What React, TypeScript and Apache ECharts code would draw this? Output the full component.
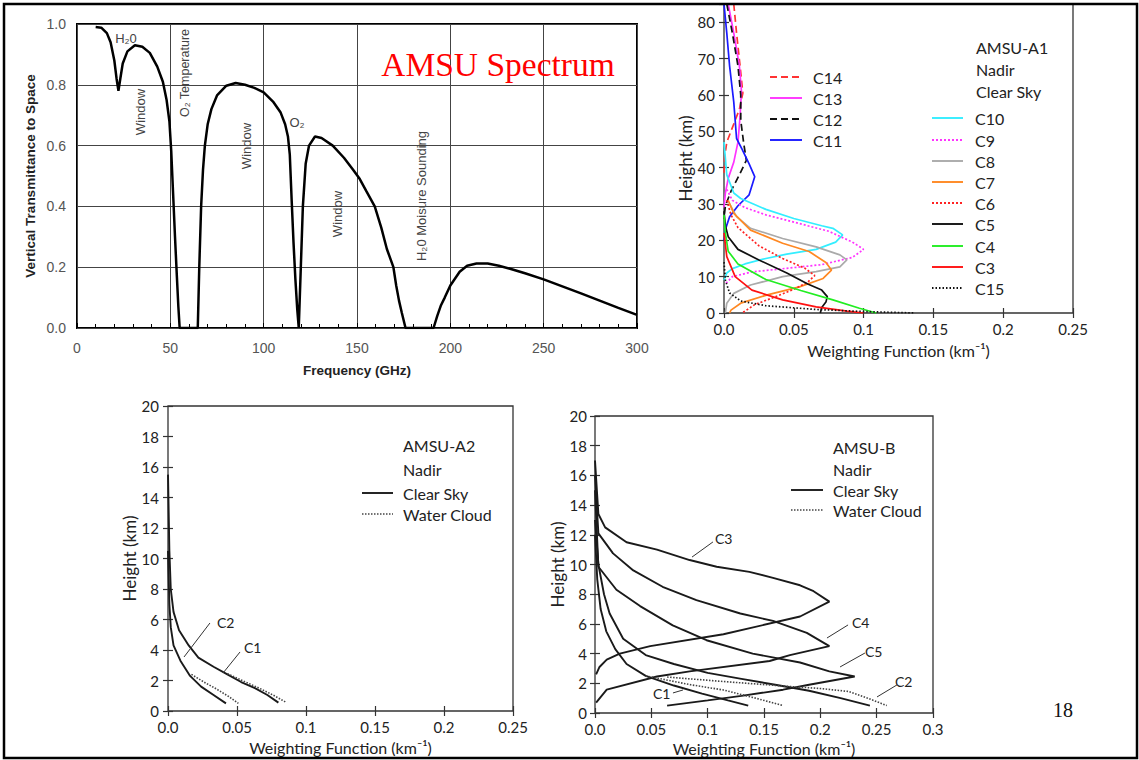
import React, { useEffect, useRef } from "react";
import * as echarts from "echarts";

// ---------- Panel 1: AMSU spectrum (frequency GHz, transmittance) ----------
const spectrum: number[][] = [
  [10, 0.99], [13, 0.988], [16, 0.97], [18, 0.94], [20, 0.88], [21.2, 0.82], [22.2, 0.78], [23.2, 0.82],
  [24.5, 0.87], [27, 0.91], [31, 0.93], [35, 0.925], [39, 0.905], [43, 0.86], [46, 0.81], [48, 0.75],
  [49.5, 0.68], [50.5, 0.58], [51.5, 0.44], [52.5, 0.3], [53.5, 0.17], [54.3, 0.07], [55, 0], [64.7, 0],
  [65.5, 0.2], [66.5, 0.4], [67.5, 0.52], [68.5, 0.6], [70, 0.67], [72, 0.72], [75, 0.765], [80, 0.797],
  [85, 0.806], [90, 0.8], [95, 0.79], [100, 0.775], [105, 0.745], [109, 0.71], [111.5, 0.67], [113, 0.63],
  [114, 0.57], [115, 0.42], [116, 0.28], [117, 0.16], [118, 0.06], [118.8, 0], [119.9, 0.2], [121, 0.4],
  [122.5, 0.54], [124.3, 0.6], [127.5, 0.63], [131, 0.625], [137, 0.6], [143, 0.56], [148, 0.52], [151.5, 0.49],
  [155, 0.45], [159.5, 0.4], [163, 0.33], [166, 0.26], [169.5, 0.2], [171, 0.14], [172.5, 0.09], [174, 0.05],
  [176, 0], [191, 0], [193, 0.04], [195, 0.075], [197, 0.1], [200, 0.14], [205, 0.185], [209, 0.205],
  [214, 0.212], [220, 0.212], [226, 0.205], [232, 0.195], [240, 0.18], [250, 0.16], [260, 0.137],
  [270, 0.114], [280, 0.09], [290, 0.066], [300, 0.043],
];
const specX = { min: 0, max: 300, step: 50 };
const specY = { min: 0, max: 1, step: 0.2 };

// ---------- Panel 2: AMSU-A1 weighting functions [weight, height km] ----------
const c14 = [[0.007, 85], [0.009, 77], [0.0115, 68], [0.0135, 60.5], [0.011, 56], [0.006, 51], [0.002, 47], [0.0005, 43], [0, 38]];
const c13 = [[0.003, 85], [0.007, 77], [0.011, 68], [0.0125, 61], [0.0115, 54], [0.01, 47], [0.007, 41.5], [0.003, 37], [0.001, 33], [0, 29]];
const c12 = [[0.002, 85], [0.006, 77], [0.01, 68], [0.012, 60], [0.012, 53], [0.014, 47], [0.016, 42], [0.011, 38], [0.005, 33.5], [0.001, 29.5], [0, 26]];
const c11 = [[0, 85], [0.002, 77], [0.004, 68], [0.007, 58], [0.009, 48], [0.013, 45], [0.018, 41], [0.022, 37.5], [0.018, 32.5], [0.01, 29.5], [0.004, 26.5], [0.001, 23], [0, 20]];
const c10 = [[0, 47], [0.002, 38], [0.007, 33], [0.012, 31.5], [0.03, 28.5], [0.05, 26], [0.07, 24], [0.078, 23.3], [0.085, 21.5], [0.08, 19.5], [0.066, 17.5], [0.045, 16.2], [0.03, 15], [0.015, 13.5], [0.006, 12.2], [0.002, 11], [0, 9]];
const c9 = [[0.002, 34], [0.006, 31], [0.015, 29], [0.03, 27], [0.05, 25], [0.075, 22.5], [0.092, 19.5], [0.1, 17.5], [0.092, 15.3], [0.07, 13.3], [0.045, 12.3], [0.02, 11.3], [0.006, 10], [0.001, 8]];
const c8 = [[0.004, 30], [0.009, 26.5], [0.019, 23.3], [0.042, 20.5], [0.066, 18.2], [0.083, 16], [0.088, 14.6], [0.083, 12.7], [0.066, 11.4], [0.042, 10], [0.019, 7.7], [0.007, 5.4], [0.002, 2.7], [0.001, 0]];
const c7 = [[0.003, 31], [0.007, 27.4], [0.019, 22.8], [0.042, 19.2], [0.061, 16.9], [0.073, 13.9], [0.077, 11.8], [0.071, 9.5], [0.054, 7.2], [0.031, 5], [0.012, 2.7], [0.005, 0.8], [0.004, 0]];
const c6 = [[0.002, 31], [0.005, 27], [0.01, 23.5], [0.025, 18.5], [0.042, 15], [0.058, 12.3], [0.065, 10.3], [0.06, 8.5], [0.05, 6.5], [0.035, 4.2], [0.022, 2.3], [0.013, 0]];
const c5 = [[0, 28], [0.001, 24], [0.003, 21], [0.01, 17.5], [0.025, 14.6], [0.045, 11], [0.06, 8], [0.07, 6.3], [0.074, 4.5], [0.073, 3], [0.07, 1.5], [0.069, 0]];
const c4 = [[0, 27], [0.001, 22], [0.003, 17], [0.01, 13.5], [0.03, 9.2], [0.055, 6.2], [0.078, 3.6], [0.097, 1.3], [0.109, 0]];
const c3 = [[0, 22], [0.002, 15.5], [0.008, 10], [0.02, 6.3], [0.042, 3.6], [0.066, 1.7], [0.088, 0.5], [0.1, 0]];
const c15 = [[0, 14], [0.001, 9], [0.004, 5.5], [0.012, 3.3], [0.03, 2], [0.065, 1], [0.1, 0.4], [0.137, 0]];
const a1X = { min: 0, max: 0.25, step: 0.05 };
const a1Y = { min: 0, max: 85, step: 10 };

// ---------- Panel 3: AMSU-A2 ----------
const a2C1Clear = [[0, 15.5], [0.001, 10.5], [0.002, 8], [0.004, 6.5], [0.008, 5.3], [0.015, 4.3], [0.022, 3.5], [0.033, 2.9], [0.043, 2.4], [0.053, 1.9], [0.063, 1.5], [0.072, 1.05], [0.08, 0.55]];
const a2C2Clear = [[0, 10.5], [0.001, 7], [0.002, 5.5], [0.004, 4.3], [0.009, 3.3], [0.016, 2.3], [0.024, 1.6], [0.033, 1.05], [0.042, 0.5]];
const a2C1Cloud = [[0.043, 2.45], [0.055, 1.95], [0.066, 1.5], [0.076, 1.05], [0.085, 0.6]];
const a2C2Cloud = [[0.017, 2.4], [0.026, 1.9], [0.035, 1.45], [0.044, 0.95], [0.051, 0.5]];
const a2LeadC2 = [[0.0304, 5.77], [0.0116, 3.54]];
const a2LeadC1 = [[0.0522, 3.87], [0.0399, 2.49]];
const a2X = { min: 0, max: 0.25, step: 0.05 };
const a2Y = { min: 0, max: 20, step: 2 };

// ---------- Panel 4: AMSU-B ----------
const bC1 = [[0, 12], [0.002, 9], [0.005, 7], [0.01, 5.5], [0.018, 4.3], [0.028, 3.3], [0.045, 2.5], [0.07, 1.85], [0.095, 1.3], [0.118, 0.85], [0.136, 0.5]];
const bC2 = [[0, 13], [0.003, 10], [0.008, 8], [0.013, 6.7], [0.025, 5], [0.045, 3.9], [0.07, 3.3], [0.1, 2.7], [0.13, 2.3], [0.16, 1.9], [0.19, 1.5], [0.218, 1], [0.244, 0.5]];
const bC3 = [[0, 17], [0.003, 13.4], [0.009, 12.5], [0.028, 11.5], [0.055, 11], [0.084, 10.3], [0.108, 9.85], [0.137, 9.5], [0.158, 9.1], [0.182, 8.6], [0.194, 8.2], [0.208, 7.5], [0.182, 6.5], [0.114, 5.3], [0.049, 4.5], [0.022, 4], [0.0104, 3.6], [0.004, 3.1], [0.001, 2.6]];
const bC4 = [[0, 16], [0.003, 12.1], [0.016, 10.75], [0.034, 9.6], [0.06, 8.5], [0.09, 7.6], [0.129, 6.7], [0.158, 6.2], [0.188, 5.4], [0.208, 4.5], [0.173, 3.9], [0.155, 3.5], [0.084, 2.8], [0.055, 2.46], [0.0104, 1.57], [0.001, 0.7]];
const bC5 = [[0, 15], [0.003, 9.85], [0.019, 8.3], [0.04, 7.2], [0.069, 5.9], [0.099, 4.9], [0.14, 4], [0.182, 3.4], [0.208, 2.8], [0.2305, 2.46], [0.19, 1.9], [0.167, 1.57], [0.13, 1.15], [0.1, 0.85], [0.064, 0.5]];
const bC1Cloud = [[0.045, 2.5], [0.085, 1.9], [0.114, 1.55], [0.14, 1.05], [0.167, 0.5]];
const bC2Cloud = [[0.064, 2.42], [0.114, 2.12], [0.17, 1.8], [0.2, 1.65], [0.225, 1.45], [0.242, 1.0], [0.259, 0.5]];
const bLeadC3 = [[0.1047, 11.52], [0.0861, 10.5]];
const bLeadC4 = [[0.2246, 5.93], [0.2059, 5.05]];
const bLeadC5 = [[0.2396, 4.04], [0.2175, 3.1]];
const bLeadC2 = [[0.268, 1.89], [0.2503, 1.08]];
const bLeadC1 = [[0.0692, 1.35], [0.0781, 1.55]];
const bX = { min: 0, max: 0.3, step: 0.05 };
const bY = { min: 0, max: 20, step: 2 };

const SANS = "Lato, 'DejaVu Sans', sans-serif";
const ARIAL = "'Liberation Sans', Arial, sans-serif";
const SERIF = "'Liberation Serif', 'Times New Roman', serif";

const fmtW = (v: number) => (v === 0 ? "0.0" : String(Math.round(v * 1000) / 1000));

const txt = (text: string, x: number, y: number, size: number, o: any = {}) => ({
  type: "text",
  x,
  y,
  z: 60,
  silent: true,
  rotation: o.rot || 0,
  style: {
    text,
    fill: o.color || "#222",
    fontSize: size,
    fontFamily: o.font || SANS,
    fontWeight: o.weight || "normal",
    align: o.align || "left",
    verticalAlign: "middle",
  },
});
const seg = (x1: number, y1: number, x2: number, y2: number, color: string, width: number, dash?: number[]) => ({
  type: "line",
  z: 60,
  silent: true,
  shape: { x1, y1, x2, y2 },
  style: { stroke: color, lineWidth: width, lineDash: dash || null },
});

export default function App() {
  const ref = useRef<HTMLDivElement>(null);
  useEffect(() => {
    document.body.style.margin = "0";
    const chart = echarts.init(ref.current!, null, { renderer: "svg" });

    const line = (name: string, data: number[][], idx: number, color: string, width: number, dash?: any, z = 3) => ({
      type: "line",
      name,
      data,
      xAxisIndex: idx,
      yAxisIndex: idx,
      symbol: "none",
      showSymbol: false,
      silent: true,
      z,
      lineStyle: { color, width, type: dash || "solid" },
    });

    const a1 = [
      { name: "C14", data: c14, color: "#ff3333", dash: [7, 4] },
      { name: "C13", data: c13, color: "#ff33ff", dash: null },
      { name: "C12", data: c12, color: "#111111", dash: [7, 4] },
      { name: "C11", data: c11, color: "#1a1aff", dash: null },
      { name: "C10", data: c10, color: "#33eeff", dash: null },
      { name: "C9", data: c9, color: "#ff33ff", dash: [2, 2] },
      { name: "C8", data: c8, color: "#aaaaaa", dash: null },
      { name: "C7", data: c7, color: "#ff8822", dash: null },
      { name: "C6", data: c6, color: "#ff2222", dash: [2, 2] },
      { name: "C5", data: c5, color: "#111111", dash: null },
      { name: "C4", data: c4, color: "#22ee22", dash: null },
      { name: "C3", data: c3, color: "#ff1111", dash: null },
      { name: "C15", data: c15, color: "#111111", dash: [1.5, 2] },
    ];

    const ink = "#1a1a1a";
    const dot = [1.5, 1.5];

    const series: any[] = [
      line("spectrum", spectrum, 0, "#000", 2.5),
      ...a1.map((s) => line(s.name, s.data, 1, s.color, 1.7, s.dash)),
      line("A2 C1 clear", a2C1Clear, 2, ink, 1.9),
      line("A2 C2 clear", a2C2Clear, 2, ink, 1.9),
      line("A2 C1 cloud", a2C1Cloud, 2, "#444", 1.6, dot),
      line("A2 C2 cloud", a2C2Cloud, 2, "#444", 1.6, dot),
      line("A2 lead C2", a2LeadC2, 2, "#333", 1),
      line("A2 lead C1", a2LeadC1, 2, "#333", 1),
      line("B C1", bC1, 3, ink, 1.9),
      line("B C2", bC2, 3, ink, 1.9),
      line("B C3", bC3, 3, ink, 1.9),
      line("B C4", bC4, 3, ink, 1.9),
      line("B C5", bC5, 3, ink, 1.9),
      line("B C1 cloud", bC1Cloud, 3, "#444", 1.6, dot),
      line("B C2 cloud", bC2Cloud, 3, "#444", 1.6, dot),
      line("B lead C3", bLeadC3, 3, "#333", 1),
      line("B lead C4", bLeadC4, 3, "#333", 1),
      line("B lead C5", bLeadC5, 3, "#333", 1),
      line("B lead C2", bLeadC2, 3, "#333", 1),
      line("B lead C1", bLeadC1, 3, "#333", 1),
    ];

    const boxGrid = (left: number, top: number, width: number, height: number) => ({
      left, top, width, height, show: true, borderColor: "#333", borderWidth: 1.3, backgroundColor: "transparent",
    });

    const wXAxis = (grid: number, r: any, name: string, gap: number, margin: number) => ({
      type: "value", gridIndex: grid, position: "bottom", min: r.min, max: r.max, interval: r.step,
      axisLine: { show: false }, splitLine: { show: false },
      axisTick: { show: true, inside: true, length: 5, lineStyle: { color: "#333", width: 1.2 } },
      axisLabel: { color: "#222", fontFamily: SANS, fontSize: 15, margin, formatter: fmtW },
      name, nameLocation: "middle", nameGap: gap,
      nameTextStyle: { color: "#222", fontFamily: SANS, fontSize: 16 },
    });
    const hYAxis = (grid: number, r: any, gap: number, margin: number) => ({
      type: "value", gridIndex: grid, position: "left", min: r.min, max: r.max, interval: r.step,
      axisLine: { show: false }, splitLine: { show: false },
      axisTick: { show: true, inside: true, length: 5, lineStyle: { color: "#333", width: 1.2 } },
      axisLabel: { color: "#222", fontFamily: SANS, fontSize: 15, margin, showMaxLabel: r.max % r.step === 0 },
      name: "Height (km)", nameLocation: "middle", nameGap: gap,
      nameTextStyle: { color: "#222", fontFamily: SANS, fontSize: 17 },
    });
    const mirrorX = (grid: number, r: any) => ({
      type: "value", gridIndex: grid, position: "top", min: r.min, max: r.max, interval: r.step,
      axisLine: { show: false }, splitLine: { show: false }, axisLabel: { show: false },
      axisTick: { show: true, inside: true, length: 5, lineStyle: { color: "#333", width: 1.2 } },
    });
    const mirrorY = (grid: number, r: any) => ({
      type: "value", gridIndex: grid, position: "right", min: r.min, max: r.max, interval: r.step,
      axisLine: { show: false }, splitLine: { show: false }, axisLabel: { show: false },
      axisTick: { show: true, inside: true, length: 5, lineStyle: { color: "#333", width: 1.2 } },
    });

    const ann = { font: ARIAL, color: "#444", align: "center" };
    const graphic: any[] = [
      // frame
      { type: "rect", z: 100, silent: true, shape: { x: 4, y: 4, width: 1133, height: 754 }, style: { fill: "none", stroke: "#000", lineWidth: 2.5 } },
      // panel 1 annotations
      txt("AMSU Spectrum", 498, 64, 33.5, { font: SERIF, color: "#ff0000", align: "center" }),
      txt("H₂0", 126, 38, 13, ann),
      txt("Window", 140, 112, 13, { ...ann, rot: Math.PI / 2 }),
      txt("O₂ Temperature", 185, 73, 12.5, { ...ann, rot: Math.PI / 2 }),
      txt("Window", 246, 146, 13, { ...ann, rot: Math.PI / 2 }),
      txt("O₂", 297, 122, 13, ann),
      txt("Window", 337, 214, 13, { ...ann, rot: Math.PI / 2 }),
      txt("H₂0 Moisure Sounding", 421, 196, 13, { ...ann, rot: Math.PI / 2 }),
      // page number
      txt("18", 1063, 710, 20, { font: SERIF, color: "#111", align: "center" }),
      // panel 2 legend header
      txt("AMSU-A1", 976, 47, 16),
      txt("Nadir", 976, 69, 16),
      txt("Clear Sky", 976, 91, 16),
      // panel 3 legend
      txt("AMSU-A2", 403, 445, 16),
      txt("Nadir", 403, 469, 16),
      txt("Clear Sky", 403, 493, 16),
      seg(362, 493, 393, 493, ink, 1.9),
      txt("Water Cloud", 403, 514, 16),
      seg(362, 514, 393, 514, "#444", 1.6, dot),
      txt("C2", 217, 622, 14),
      txt("C1", 244, 647, 14),
      // panel 4 legend
      txt("AMSU-B", 833, 447, 16),
      txt("Nadir", 833, 469, 16),
      txt("Clear Sky", 833, 490, 16),
      seg(791, 490, 823, 490, ink, 1.9),
      txt("Water Cloud", 833, 510, 16),
      seg(791, 510, 823, 510, "#444", 1.6, dot),
      txt("C3", 715, 538, 14),
      txt("C4", 852, 622, 14),
      txt("C5", 865, 651, 14),
      txt("C2", 895, 681, 14),
      txt("C1", 653, 693, 14),
    ];
    const legL = [77, 98, 119, 140];
    a1.slice(0, 4).forEach((s, i) => {
      graphic.push(seg(770, legL[i], 802, legL[i], s.color, 1.9, s.dash || undefined));
      graphic.push(txt(s.name, 813, legL[i], 16));
    });
    const legR = [118, 140, 161, 182, 203, 224, 246, 267, 288];
    a1.slice(4).forEach((s, i) => {
      graphic.push(seg(932, legR[i], 963, legR[i], s.color, 1.9, s.dash || undefined));
      graphic.push(txt(s.name, 975, legR[i], 16));
    });

    chart.setOption({
      animation: false,
      backgroundColor: "#fff",
      grid: [
        { left: 77, top: 24, width: 560, height: 304, show: true, borderColor: "#000", borderWidth: 2, backgroundColor: "transparent" },
        boxGrid(724, 4, 349, 309),
        boxGrid(168, 406, 345, 305),
        boxGrid(595, 416, 338, 297),
      ],
      xAxis: [
        {
          type: "value", gridIndex: 0, position: "bottom", min: specX.min, max: specX.max, interval: specX.step,
          axisLine: { show: false },
          splitLine: { show: true, lineStyle: { color: "#444", width: 1 } },
          axisTick: { show: true, inside: true, length: 5, lineStyle: { color: "#000" } },
          minorTick: { show: true, splitNumber: 5, length: 4, lineStyle: { color: "#000" } },
          axisLabel: { color: "#555", fontFamily: ARIAL, fontSize: 14, margin: 13 },
          name: "Frequency (GHz)", nameLocation: "middle", nameGap: 35,
          nameTextStyle: { color: "#222", fontFamily: ARIAL, fontSize: 13.5, fontWeight: "bold" },
        },
        wXAxis(1, a1X, "Weighting Function (km⁻¹)", 29, 8),
        wXAxis(2, a2X, "Weighting Function (km⁻¹)", 28, 8),
        wXAxis(3, bX, "Weighting Function (km⁻¹)", 27, 8),
        mirrorX(1, a1X),
        mirrorX(2, a2X),
        mirrorX(3, bX),
      ],
      yAxis: [
        {
          type: "value", gridIndex: 0, position: "left", min: specY.min, max: specY.max, interval: specY.step,
          axisLine: { show: false },
          splitLine: { show: true, lineStyle: { color: "#444", width: 1 } },
          axisTick: { show: false },
          axisLabel: { color: "#555", fontFamily: ARIAL, fontSize: 14, margin: 11, formatter: (v: number) => v.toFixed(1) },
          name: "Vertical Transmittance to Space", nameLocation: "middle", nameGap: 40,
          nameTextStyle: { color: "#222", fontFamily: ARIAL, fontSize: 13.5, fontWeight: "bold" },
        },
        hYAxis(1, a1Y, 30, 9),
        hYAxis(2, a2Y, 29, 9),
        hYAxis(3, bY, 28, 8),
        mirrorY(1, a1Y),
        mirrorY(2, a2Y),
        mirrorY(3, bY),
      ],
      series,
      graphic,
    });
    return () => chart.dispose();
  }, []);
  return <div ref={ref} style={{ width: 1139, height: 760, background: "#fff" }} />;
}
